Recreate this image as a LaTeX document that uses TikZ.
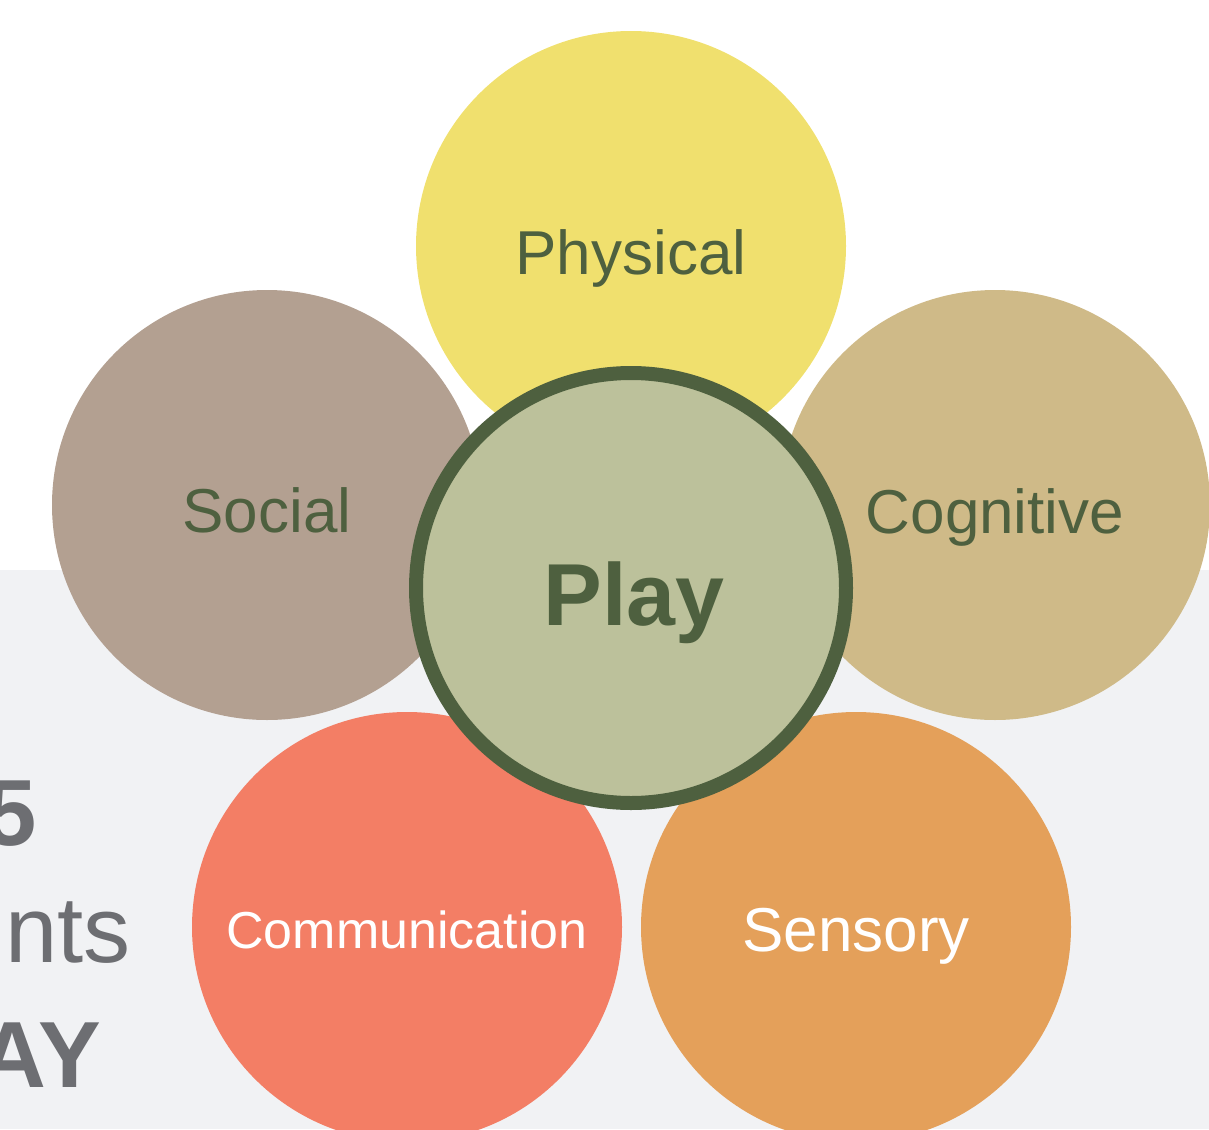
\documentclass[tikz,border=0pt]{standalone}
\usepackage{fontspec}
\setmainfont{Liberation Sans}

\definecolor{leaf}{HTML}{4E603F}
\definecolor{playfill}{HTML}{BCC19B}
\definecolor{physfill}{HTML}{F0E06E}
\definecolor{socfill}{HTML}{B3A091}
\definecolor{cogfill}{HTML}{CFBA88}
\definecolor{commfill}{HTML}{F37E65}
\definecolor{sensfill}{HTML}{E4A05A}
\definecolor{backdrop}{HTML}{F1F2F4}
\definecolor{slate}{HTML}{6D6E72}

\begin{document}
\begin{tikzpicture}[x=1pt, y=-1pt,
        petal/.style={circle, minimum size=430pt, inner sep=0pt},
        hub/.style={petal, draw=leaf, line width=14pt, fill=playfill},
        darklbl/.style={anchor=base, inner sep=0pt, text=leaf, font=\fontsize{62}{62}\selectfont},
        lightlbl/.style={anchor=base, inner sep=0pt, text=white, font=\fontsize{62}{62}\selectfont},
        sidetxt/.style={anchor=base east, inner sep=0pt, text=slate, font=\fontsize{94}{94}\selectfont}]
        \useasboundingbox (0,0) rectangle (1209,1129);
        \begin{scope}
            \clip (0,0) rectangle (1209,1129);
            \fill[backdrop] (0,570) rectangle (1209,1129);
            % side heading, cut by the edge
            \node[sidetxt, font=\fontsize{94}{94}\selectfont\bfseries] (five) at (37, 845)  {5};
            \node[sidetxt]                                            (nts)  at (131, 962) {nts};
            \node[sidetxt, font=\fontsize{94}{94}\selectfont\bfseries] (ay)   at (101, 1087) {AY};
            % petals
            \node[petal, fill=physfill] (physical) at (631, 246) {};
            \node[petal, fill=socfill]  (social)   at (267, 505) {};
            \node[petal, fill=cogfill]  (cognitive) at (995, 505) {};
            \node[petal, fill=commfill] (communication) at (407, 927) {};
            \node[petal, fill=sensfill] (sensory)  at (856, 927) {};
            \node[hub] (play) at (631, 588) {};
            % labels
            \node[darklbl]  (physical-txt)  at ([yshift=-28pt] physical.center)  {Physical};
            \node[darklbl]  (social-txt)    at ([yshift=-27pt] social.center)    {Social};
            \node[darklbl]  (cognitive-txt) at ([yshift=-28pt] cognitive.center) {Cognitive};
            \node[lightlbl, font=\fontsize{52}{52}\selectfont] (communication-txt) at ([yshift=-21pt] communication.center) {Communication};
            \node[lightlbl] (sensory-txt)   at ([yshift=-24pt] sensory.center)   {Sensory};
            \node[darklbl, font=\fontsize{88}{88}\selectfont\bfseries] (play-txt) at ([xshift=3pt, yshift=-37pt] play.center) {Play};
        \end{scope}
\end{tikzpicture}
\end{document}
